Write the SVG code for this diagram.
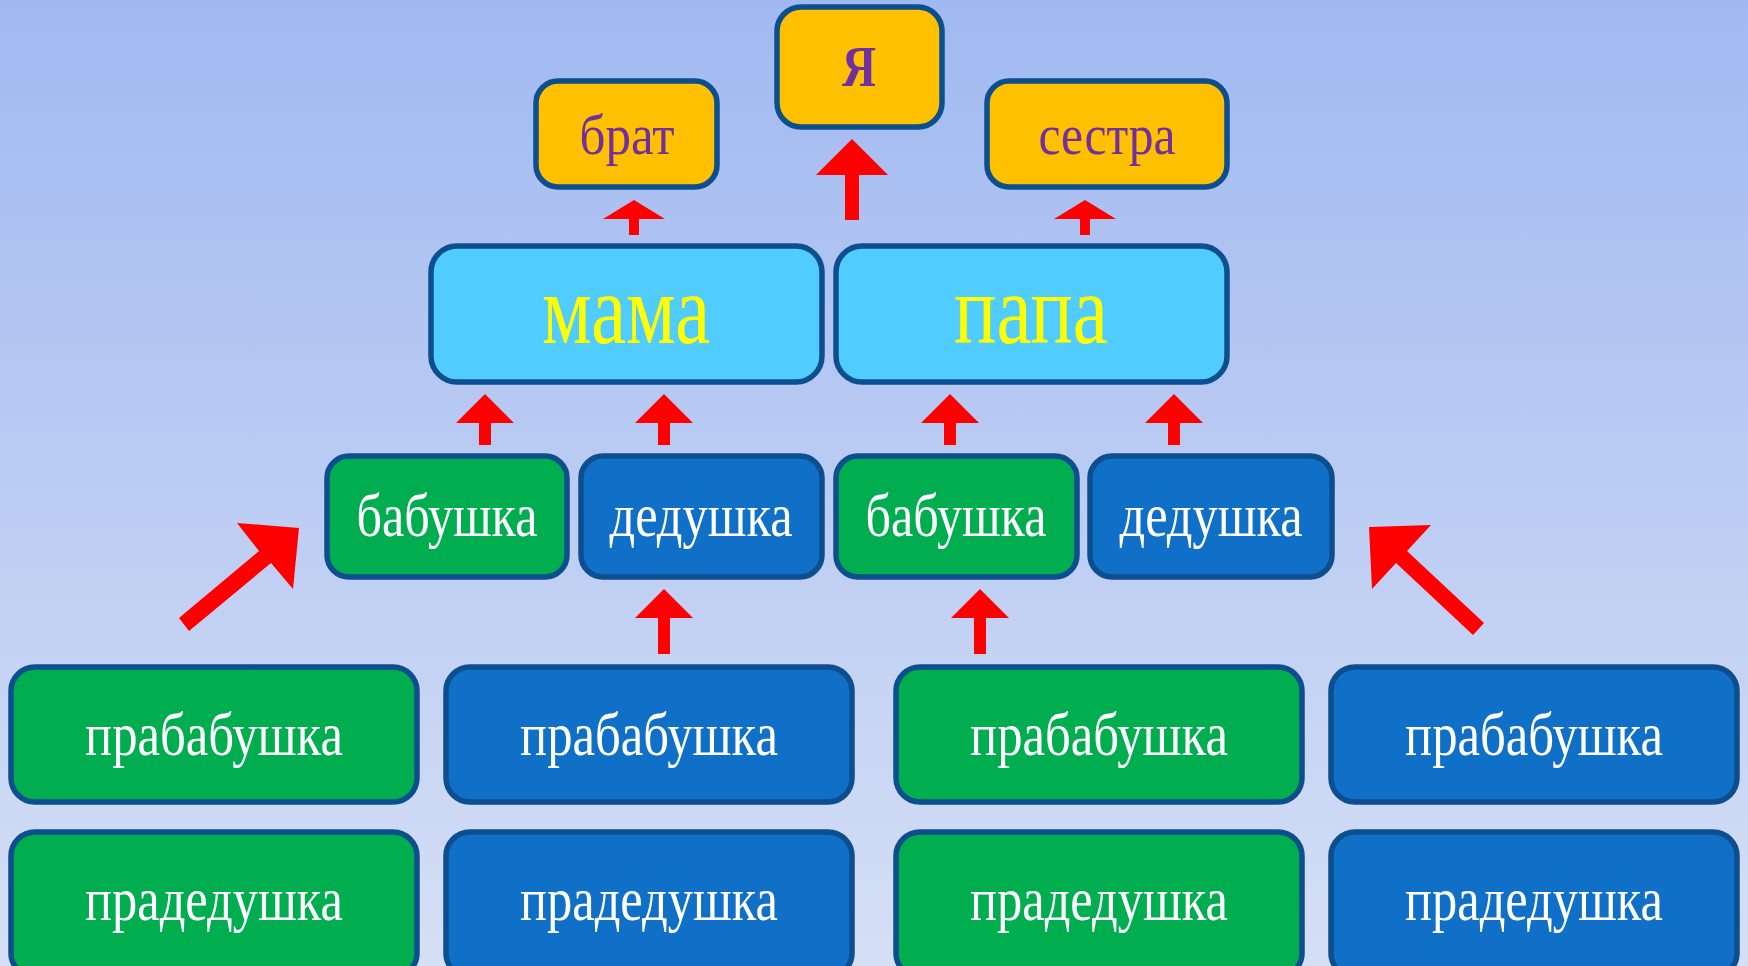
<svg xmlns="http://www.w3.org/2000/svg" width="1748" height="966" viewBox="0 0 1748 966">
<defs>
<linearGradient id="bg" x1="0" y1="0" x2="0" y2="1">
<stop offset="0" stop-color="#a1b9f1"/>
<stop offset="1" stop-color="#d5dff5"/>
</linearGradient>
</defs>
<style>
.box{stroke:#0d4e8e;stroke-width:5.5}
.y{fill:#ffc000}
.lb{fill:#50cdfe}
.g{fill:#00ae4f}
.b{fill:#106fc6}
text{font-family:"Liberation Serif",serif;text-anchor:middle}
.tp{fill:#7030a0;font-size:56px}
.ty{fill:#ffff00;font-size:100px}
.tw{fill:#ffffff;font-size:61px}
.arr{fill:#ff0000}
</style>
<rect x="0" y="0" width="1748" height="966" fill="url(#bg)"/>

<g id="connectors">
<polygon class="arr" points="852,139 888,175 859,175 859,220 845,220 845,175 816,175"/>
<polygon class="arr" points="634,200 665,219 639,219 639,235 629,235 629,219 603,219"/>
<polygon class="arr" points="1085,200 1116,219 1090,219 1090,235 1080,235 1080,219 1054,219"/>
<polygon class="arr" points="485,394 514,423 491,423 491,445 479,445 479,423 456,423"/>
<polygon class="arr" points="664,394 693,423 670,423 670,445 658,445 658,423 635,423"/>
<polygon class="arr" points="950,394 979,423 956,423 956,445 944,445 944,423 921,423"/>
<polygon class="arr" points="1174,394 1203,423 1180,423 1180,445 1168,445 1168,423 1145,423"/>
<polygon class="arr" points="664,589 693,618 670,618 670,654 658,654 658,618 635,618"/>
<polygon class="arr" points="980,589 1009,618 986,618 986,654 974,654 974,618 951,618"/>
<polygon class="arr" points="237,523 299,528 293,589 271,563 189,631 179,618 259,551"/>
<polygon class="arr" points="1431,525 1369,527 1372,589 1396,563 1473,635 1484,623 1407,551"/>
</g>

<g id="ya"><rect class="box y" x="777" y="7" width="165" height="120" rx="24"/><text class="tp" x="859" y="86" font-size="54" font-weight="bold" textLength="34" lengthAdjust="spacingAndGlyphs">Я</text></g>
<g id="brat"><rect class="box y" x="536" y="81" width="181" height="106" rx="22"/><text class="tp" x="627" y="154" textLength="95" lengthAdjust="spacingAndGlyphs">брат</text></g>
<g id="sestra"><rect class="box y" x="987" y="81" width="240" height="106" rx="22"/><text class="tp" x="1107" y="154" textLength="137" lengthAdjust="spacingAndGlyphs">сестра</text></g>

<g id="mama"><rect class="box lb" x="431" y="246" width="391" height="136" rx="26"/><text class="ty" x="626" y="343" textLength="168" lengthAdjust="spacingAndGlyphs">мама</text></g>
<g id="papa"><rect class="box lb" x="836" y="246" width="391" height="136" rx="26"/><text class="ty" x="1031" y="343" textLength="154" lengthAdjust="spacingAndGlyphs">папа</text></g>

<g id="babushka1"><rect class="box g" x="327" y="456" width="240" height="121" rx="22"/><text class="tw" x="447" y="536" textLength="181" lengthAdjust="spacingAndGlyphs">бабушка</text></g>
<g id="dedushka1"><rect class="box b" x="581" y="456" width="241" height="121" rx="22"/><text class="tw" x="701" y="536" textLength="183" lengthAdjust="spacingAndGlyphs">дедушка</text></g>
<g id="babushka2"><rect class="box g" x="836" y="456" width="241" height="121" rx="22"/><text class="tw" x="956" y="536" textLength="181" lengthAdjust="spacingAndGlyphs">бабушка</text></g>
<g id="dedushka2"><rect class="box b" x="1090" y="456" width="242" height="121" rx="22"/><text class="tw" x="1211" y="536" textLength="183" lengthAdjust="spacingAndGlyphs">дедушка</text></g>

<g id="prababushka1"><rect class="box g" x="11" y="667" width="406" height="135" rx="24"/><text class="tw" x="214" y="755" textLength="258" lengthAdjust="spacingAndGlyphs">прабабушка</text></g>
<g id="prababushka2"><rect class="box b" x="446" y="667" width="406" height="135" rx="24"/><text class="tw" x="649" y="755" textLength="258" lengthAdjust="spacingAndGlyphs">прабабушка</text></g>
<g id="prababushka3"><rect class="box g" x="896" y="667" width="406" height="135" rx="24"/><text class="tw" x="1099" y="755" textLength="258" lengthAdjust="spacingAndGlyphs">прабабушка</text></g>
<g id="prababushka4"><rect class="box b" x="1331" y="667" width="406" height="135" rx="24"/><text class="tw" x="1534" y="755" textLength="258" lengthAdjust="spacingAndGlyphs">прабабушка</text></g>

<g id="pradedushka1"><rect class="box g" x="11" y="832" width="406" height="145" rx="24"/><text class="tw" x="214" y="920" textLength="258" lengthAdjust="spacingAndGlyphs">прадедушка</text></g>
<g id="pradedushka2"><rect class="box b" x="446" y="832" width="406" height="145" rx="24"/><text class="tw" x="649" y="920" textLength="258" lengthAdjust="spacingAndGlyphs">прадедушка</text></g>
<g id="pradedushka3"><rect class="box g" x="896" y="832" width="406" height="145" rx="24"/><text class="tw" x="1099" y="920" textLength="258" lengthAdjust="spacingAndGlyphs">прадедушка</text></g>
<g id="pradedushka4"><rect class="box b" x="1331" y="832" width="406" height="145" rx="24"/><text class="tw" x="1534" y="920" textLength="258" lengthAdjust="spacingAndGlyphs">прадедушка</text></g>
</svg>
